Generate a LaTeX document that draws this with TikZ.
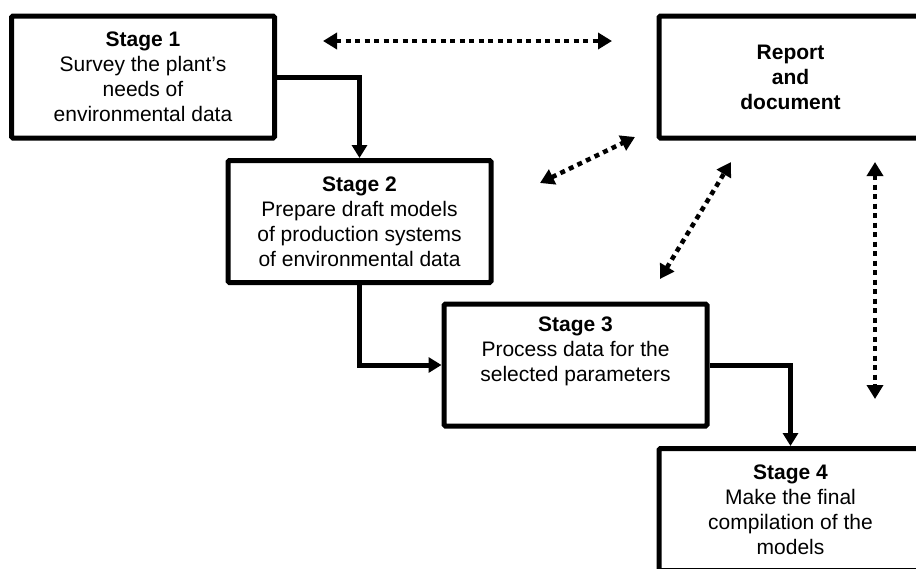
\documentclass[tikz,border=0pt]{standalone}
\usepackage{fontspec}
\setmainfont{Liberation Sans}
\usetikzlibrary{arrows.meta}
\begin{document}
\begin{tikzpicture}[x=1pt,y=-1pt,
  box/.style={draw, line width=5pt, minimum width=263pt, minimum height=122pt,
    align=center, inner sep=0pt, rounded corners=1.5pt,
    font=\fontsize{21}{25}\selectfont},
  flow/.style={line width=5pt, -{Triangle[width=15pt,length=13pt]}},
  link/.style={line width=4.5pt, dash pattern=on 5pt off 4.5pt,
    {Triangle[width=16pt,length=14pt]}-{Triangle[width=16pt,length=14pt]}}]
\useasboundingbox (0,0) rectangle (916,568);
\clip (0,0) rectangle (916,568);

\node[box] (s1) at (143,77) {\textbf{Stage 1}\\Survey the plant’s\\needs of\\environmental data};
\node[box] (s2) at (359.5,221.5) {\textbf{Stage 2}\\Prepare draft models\\of production systems\\of environmental data};
\node[box] (s3) at (575.5,365) {\textbf{Stage 3}\\Process data for the\\selected parameters\\\strut};
\node[box] (rep) at (790.5,77) {\textbf{Report}\\\textbf{and}\\\textbf{document}};
\node[box] (s4) at (790.5,509.5) {\textbf{Stage 4}\\Make the final\\compilation of the\\models};

\draw[flow] (s1.east) -| (s2.north);
\draw[flow] (s2.south) |- (s3.west);
\draw[flow] (s3.east) -| (s4.north);

\coordinate (d1a) at (323,41);
\coordinate (d1b) at (612,41);
\coordinate (d2a) at (540,183);
\coordinate (d2b) at (635,137);
\coordinate (d3a) at (660,279);
\coordinate (d3b) at (731,162);
\coordinate (d4a) at (875,162);
\coordinate (d4b) at (875,399);

\draw[link] (d1a) -- (d1b);
\draw[link] (d2a) -- (d2b);
\draw[link] (d3a) -- (d3b);
\draw[link] (d4a) -- (d4b);
\end{tikzpicture}
\end{document}
